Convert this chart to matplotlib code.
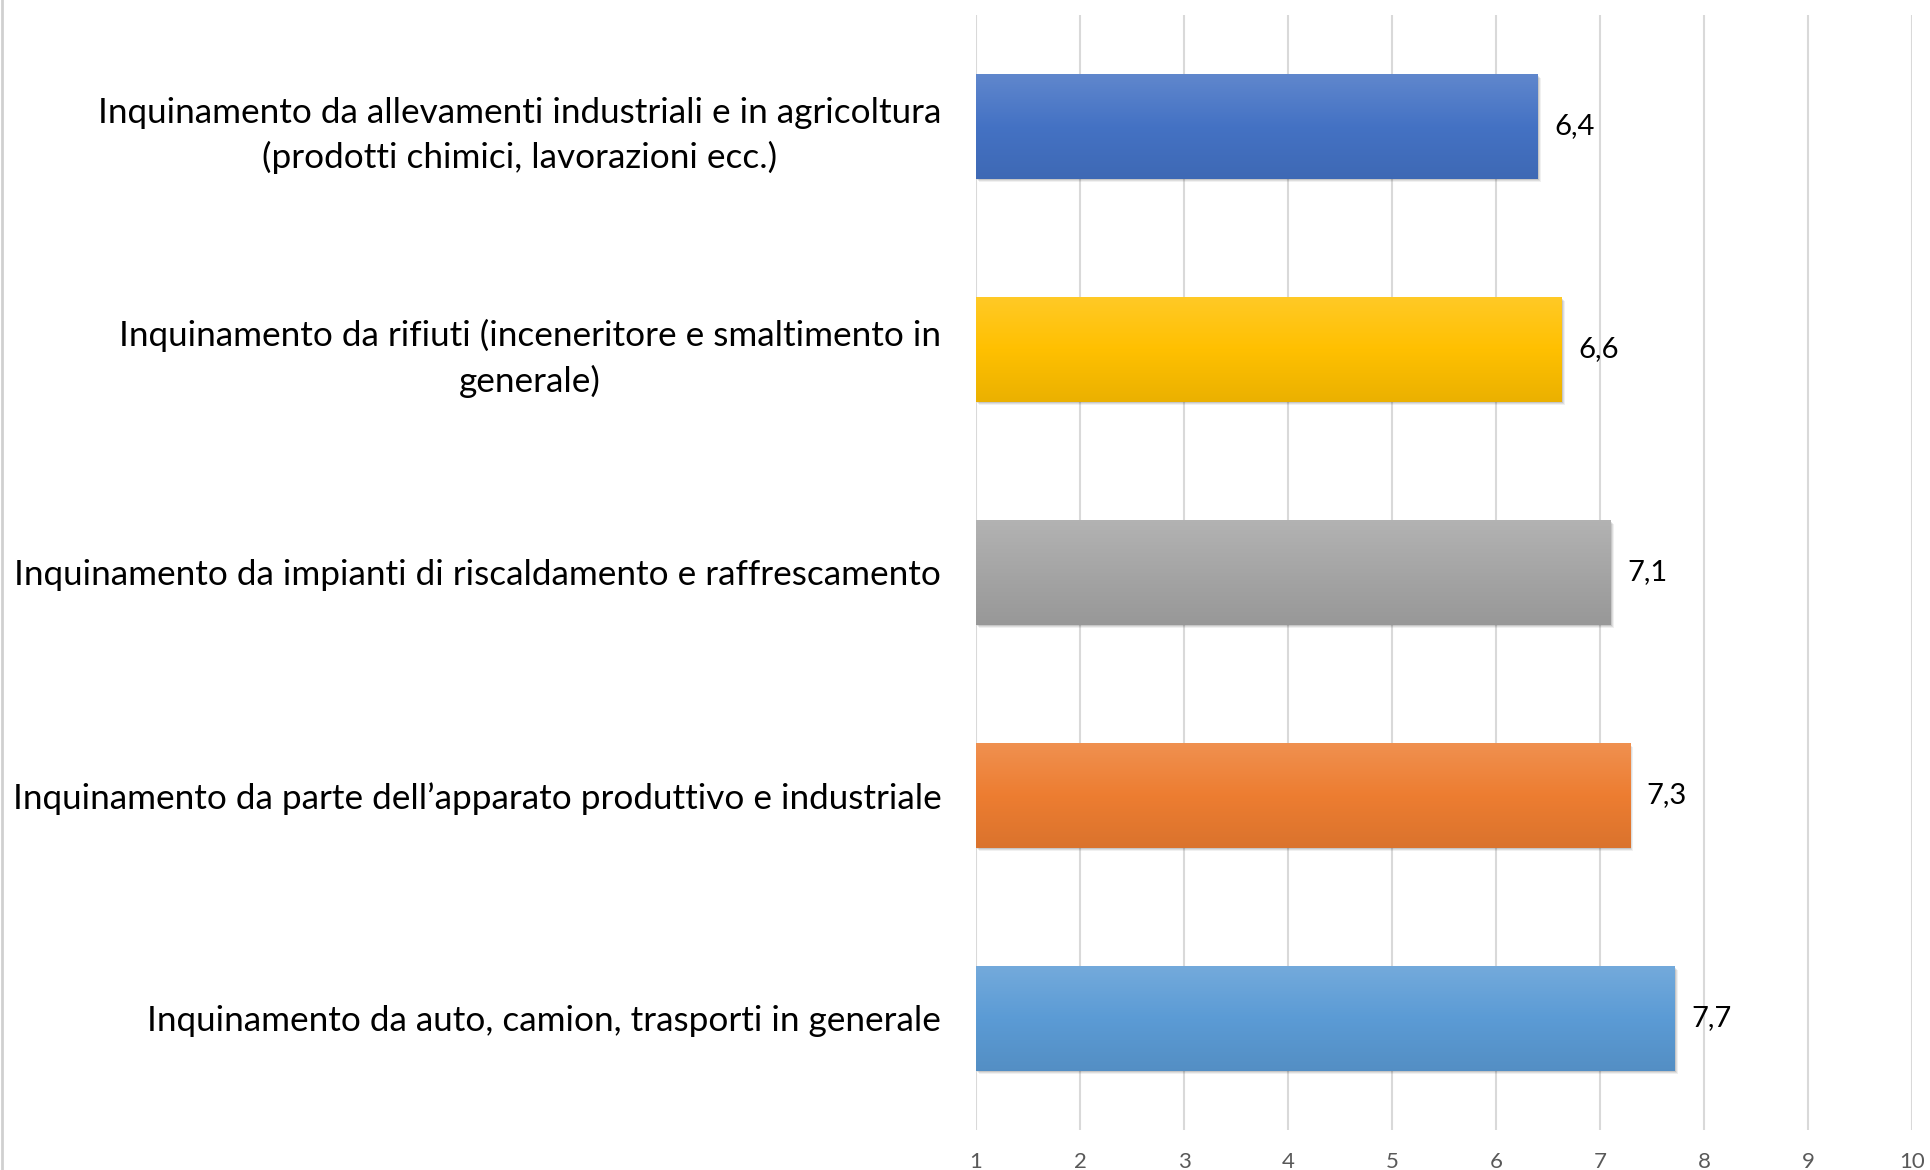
from matplotlib import pyplot as plt
from matplotlib.colors import LinearSegmentedColormap, to_rgb
from matplotlib.patches import Rectangle
from matplotlib.lines import Line2D
import numpy as np


# categories listed top to bottom as in the picture
categories = [
    'Inquinamento da allevamenti industriali e in agricoltura\n(prodotti chimici, lavorazioni ecc.)',
    'Inquinamento da rifiuti (inceneritore e smaltimento in\ngenerale)',
    'Inquinamento da impianti di riscaldamento e raffrescamento',
    'Inquinamento da parte dell\u2019apparato produttivo e industriale',
    'Inquinamento da auto, camion, trasporti in generale',
]
values = [6.4, 6.63, 7.1, 7.29, 7.72]
bar_colors = ['#4472C4', '#FFC000', '#A5A5A5', '#ED7D31', '#5B9BD5']
x_ticks = list(range(1, 11))

plt.rcParams['font.family'] = ['Lato', 'DejaVu Sans']


def shade(color, f):
    r, g, b = to_rgb(color)
    if f > 0:
        return (r + (1 - r) * f, g + (1 - g) * f, b + (1 - b) * f)
    return (r * (1 + f), g * (1 + f), b * (1 + f))


fig = plt.figure(figsize=(19.3, 11.7), dpi=100)
ax = fig.add_axes([0.5057, 0.0342, 0.4850, 0.9530])

n = len(categories)
ypos = np.arange(n)[::-1]
bars = ax.barh(ypos, [v - 1 for v in values], left=1, height=0.467,
               color='none', zorder=3)

for bar, col, val in zip(bars, bar_colors, values):
    x0, y0 = bar.get_x(), bar.get_y()
    w, h = bar.get_width(), bar.get_height()
    # soft drop shadow
    for k, a in [(0.05, 0.06), (0.035, 0.08), (0.02, 0.10)]:
        ax.add_patch(Rectangle((x0 + k * 0.6, y0 - k * 0.35), w, h,
                               facecolor='black', alpha=a, edgecolor='none',
                               zorder=2))
    cmap = LinearSegmentedColormap.from_list(
        'g', [shade(col, -0.08), col, shade(col, 0.15)])
    grad = np.linspace(0, 1, 256).reshape(-1, 1)
    im = ax.imshow(grad, extent=[x0, x0 + w, y0, y0 + h], origin='lower',
                   aspect='auto', cmap=cmap, zorder=3)
    im.set_clip_path(bar)
    ax.annotate(f'{val:.1f}'.replace('.', ','), (x0 + w, y0 + h / 2),
                xytext=(12, 0), textcoords='offset points',
                ha='left', va='center', fontsize=21, color='black')

ax.set_xlim(1, 10)
ax.set_ylim(-0.5, n - 0.5)
ax.set_xticks(x_ticks)
ax.set_xticklabels([str(t) for t in x_ticks])
ax.set_yticks(ypos)
ax.set_yticklabels(categories, multialignment='center', linespacing=1.45)
ax.tick_params(axis='y', length=0, pad=25, labelsize=25.3, labelcolor='black')
ax.tick_params(axis='x', length=0, pad=16, labelsize=16, labelcolor='#595959')
ax.grid(axis='x', color='#D9D9D9', linewidth=1.5, zorder=0)
ax.set_axisbelow(True)
for s in ax.spines.values():
    s.set_visible(False)

fig.add_artist(Line2D([0.0008, 0.0008], [0, 1], color='#D0D0D0', linewidth=2,
                      transform=fig.transFigure))

fig.savefig('out.png', dpi=100)
